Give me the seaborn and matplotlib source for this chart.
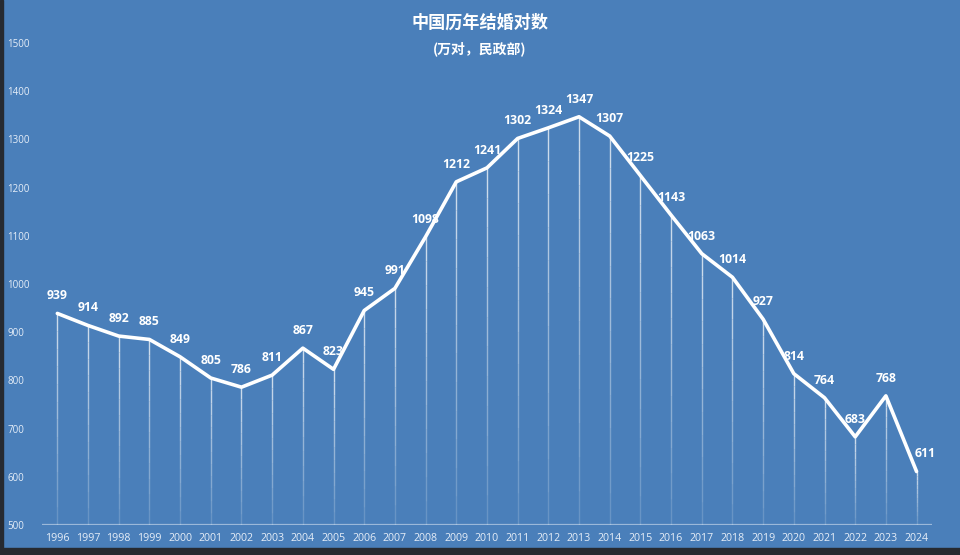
import pandas as pd
import seaborn as sns
import matplotlib.pyplot as plt
from matplotlib.patches import Rectangle

#Data
years = list(range(1996, 2025))
marriages = [939, 914, 892, 885, 849, 805, 786, 811, 867, 823, 945, 991, 1098,
             1212, 1241, 1302, 1324, 1347, 1307, 1225, 1143, 1063, 1014, 927,
             814, 764, 683, 768, 611]
yticks = [500, 600, 700, 800, 900, 1000, 1100, 1200, 1300, 1400, 1500]

df = pd.DataFrame({'year': years, 'pairs': marriages})

#Style
bg = '#4a7fba'
sns.set_theme(style='white')
plt.rcParams['font.family'] = ['Noto Sans CJK SC', 'DejaVu Sans']

fig = plt.figure(figsize=(9.6, 5.55), dpi=100, facecolor=bg)
ax = fig.add_axes([0.04375, 0.054, 0.927, 0.8685])
ax.set_facecolor(bg)

#dark frame edges of the screenshot
fig.patches.append(Rectangle((0, 0), 1, 0.013, transform=fig.transFigure, color='#262a31', zorder=0))
fig.patches.append(Rectangle((0, 0), 0.003, 1, transform=fig.transFigure, color='#262a31', zorder=0))

#drop lines, fading toward the base
steps = 12
for i in range(steps):
    lo = 500 + (df['pairs'] - 500) * i / steps
    hi = 500 + (df['pairs'] - 500) * (i + 1) / steps
    ax.vlines(df['year'], lo, hi, color='white', lw=1.0, alpha=0.12 + 0.6 * (i + 1) / steps, zorder=2)

ax.axhline(500, color='white', lw=1.6, alpha=0.45, zorder=2)

sns.lineplot(data=df, x='year', y='pairs', ax=ax, color='white', lw=2.6, zorder=3)

for x, y in zip(df['year'], df['pairs']):
    dx = 6 if x == 2024 else 0
    ax.annotate(str(y), (x, y), xytext=(dx, 8), textcoords='offset points',
                ha='center', va='bottom', color='white', fontsize=8.8,
                fontweight='bold', family=['Open Sans', 'DejaVu Sans'], zorder=4)

ax.set_xlim(1995.5, 2024.5)
ax.set_ylim(500, 1500)
ax.set_xticks(years)
ax.set_xticklabels([str(y) for y in years], fontsize=7.7, color='#e6eef8',
                   family=['Open Sans', 'DejaVu Sans'])
ax.set_yticks(yticks)
ax.set_yticklabels([str(t) for t in yticks], fontsize=7, color='#e6eef8',
                   family=['Open Sans', 'DejaVu Sans'], ha='left')
ax.tick_params(axis='x', length=0, pad=6)
ax.tick_params(axis='y', length=0, pad=25)
ax.set_xlabel('')
ax.set_ylabel('')
sns.despine(ax=ax, left=True, bottom=True)

fig.text(0.5, 0.96, '中国历年结婚对数', ha='center', va='center', color='white',
         fontsize=12.3, fontweight='bold')
fig.text(0.5, 0.913, '(万对，民政部)', ha='center', va='center', color='white',
         fontsize=10, fontweight='bold')

fig.savefig('out.png', dpi=100, facecolor=bg)
